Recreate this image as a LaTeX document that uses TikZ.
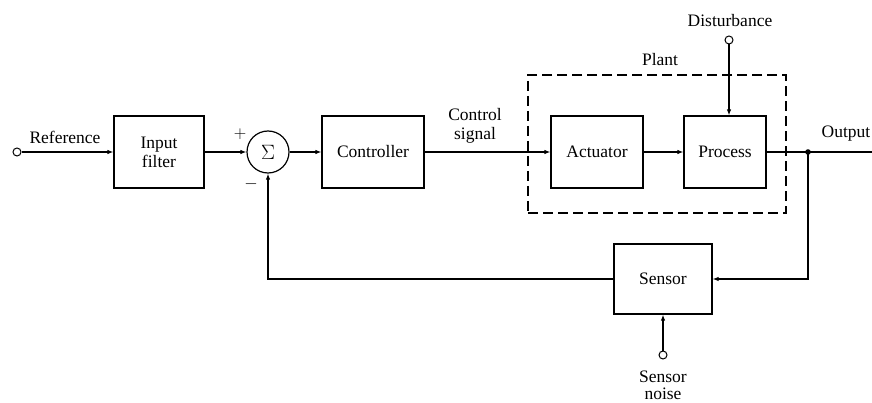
\documentclass[tikz,border=0pt]{standalone}
\usepackage{fontspec}
\setmainfont{Liberation Serif}
\usetikzlibrary{arrows.meta}
\begin{document}
\begin{tikzpicture}[x=1pt,y=-1pt,
  blk/.style={draw,line width=1.2pt,minimum width=#1,minimum height=72pt,inner sep=0pt,align=center},
  blk/.default=90pt,
  lbl/.style={inner sep=0pt,align=center},
  conn/.style={line width=1.2pt,-{Latex[length=6pt,width=4.5pt]}},
  wire/.style={line width=1.2pt},
  term/.style={circle,draw,line width=1pt,minimum size=8pt,inner sep=0pt},
  font=\fontsize{17.5}{19}\selectfont]
\useasboundingbox (0,0) rectangle (872,403);
% nodes
\node[term] (ref) at (17,152) {};
\node[blk=90pt] (filt) at (159,152) {Input\\filter};
\node[circle,draw,line width=1.2pt,minimum size=42pt,inner sep=0pt,font=\fontsize{22}{24}\selectfont] (sum) at (268,152) {$\Sigma$};
\node[blk=102pt] (ctrl) at (373,152) {Controller};
\node[blk=92pt] (act) at (597,152) {Actuator};
\node[blk=82pt] (proc) at (725,152) {Process};
\node[draw,dashed,dash pattern=on 10pt off 5pt,line width=1.2pt,minimum width=258pt,minimum height=138pt,inner sep=0pt] (plant) at (657,144) {};
\node[blk=98pt,minimum height=70pt] (sens) at (663,279) {Sensor};
\node[term] (dist) at (729,40) {};
\node[term] (noise) at (663,355) {};
\coordinate (junc) at (808,152);
\coordinate (outend) at (872,152);
\coordinate (fbr) at (808,279);
\coordinate (fbl) at (268,279);
% labels
\node[lbl] (reftxt) at (65,137) {Reference};
\node[lbl] (plus) at (240,134) {$+$};
\node[lbl] (minus) at (251,184) {$-$};
\node[lbl] (cs) at (475,126) {Control\\signal};
\node[lbl] (plantxt) at (660,60) {Plant};
\node[lbl] (disttxt) at (730,21) {Disturbance};
\node[lbl] (outtxt) at (846,134) {Output};
\node[lbl,font=\fontsize{17.5}{17}\selectfont] (noisetxt) at (663,385) {Sensor\\noise};
% connectors
\draw[conn] (ref) -- (filt);
\draw[conn] (filt) -- (sum);
\draw[conn] (sum) -- (ctrl);
\draw[conn] (ctrl) -- (act);
\draw[conn] (act) -- (proc);
\draw[conn] (dist) -- (dist |- proc.north);
\draw[wire] (proc) -- (outend);
\fill (junc) circle (2.8pt);
\draw[conn] (junc) -- (fbr) -- (sens);
\draw[conn] (sens) -- (fbl) -- (sum);
\draw[conn] (noise) -- (sens);
\end{tikzpicture}
\end{document}
